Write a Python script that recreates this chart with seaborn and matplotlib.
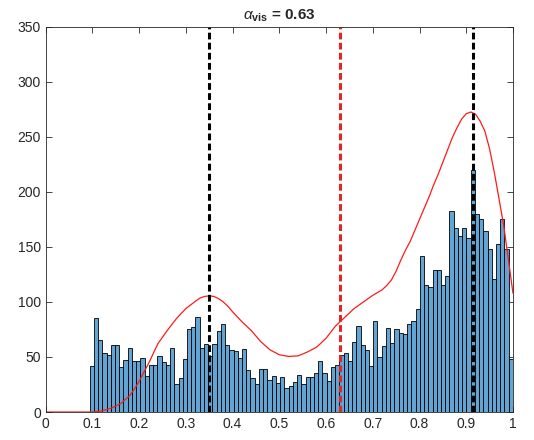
import numpy as np
import pandas as pd
import matplotlib
matplotlib.use("Agg")
import matplotlib.pyplot as plt
import seaborn as sns

# histogram counts, 100 bins from 0.094 to 1.0
bin_lo = 0.094
bin_hi = 1.0
counts = [42, 85, 65, 54, 52, 61, 61, 41, 47, 58,
          46, 46, 49, 33, 43, 43, 51, 45, 43, 58,
          25, 31, 48, 75, 77, 86, 58, 62, 51, 62,
          74, 80, 61, 56, 55, 49, 57, 38, 31, 25,
          39, 39, 29, 33, 26, 32, 22, 24, 27, 34,
          25, 32, 32, 35, 46, 35, 28, 41, 43, 52,
          54, 46, 64, 78, 61, 56, 42, 83, 50, 60,
          76, 63, 75, 72, 71, 80, 83, 94, 142, 115,
          114, 129, 129, 115, 124, 183, 167, 160, 167, 158,
          220, 180, 175, 164, 148, 121, 153, 175, 148, 48]

# red density curve
curve_x = [0.00, 0.05, 0.10, 0.12, 0.14, 0.16, 0.18, 0.19, 0.20, 0.21,
           0.22, 0.23, 0.24, 0.26, 0.28, 0.30, 0.32, 0.33, 0.34, 0.35,
           0.36, 0.37, 0.38, 0.39, 0.40, 0.42, 0.44, 0.46, 0.48, 0.50,
           0.52, 0.54, 0.56, 0.58, 0.60, 0.62, 0.64, 0.66, 0.68, 0.70,
           0.72, 0.73, 0.74, 0.75, 0.76, 0.77, 0.78, 0.79, 0.80, 0.81,
           0.82, 0.83, 0.84, 0.85, 0.86, 0.87, 0.88, 0.89, 0.90, 0.91,
           0.92, 0.93, 0.94, 0.95, 0.96, 0.97, 0.98, 0.99, 1.00]
curve_y = [0, 0, 0, 1, 3.5, 7.5, 15, 21, 28, 36,
           44, 53, 62, 74, 85, 94, 100.5, 103.5, 105, 105.5,
           105, 103, 100, 96, 91, 82, 74, 64, 56.5, 52,
           50.5, 51, 54.5, 59, 67, 78, 86, 94, 100, 106,
           111, 115, 120, 128, 138, 147, 155, 165, 175, 185,
           195, 206, 216, 227, 238, 249, 258, 266, 271, 272.5,
           270.5, 264, 255, 239, 218, 194, 170, 139, 108]

means = [0.35, 0.915]
alpha_vis = 0.63

edges = np.linspace(bin_lo, bin_hi, len(counts) + 1)
hist_df = pd.DataFrame({"x": (edges[:-1] + edges[1:]) / 2, "n": counts})

sns.set_style("ticks")
plt.rcParams['font.family'] = ['Liberation Sans', 'DejaVu Sans']
plt.rcParams['mathtext.fontset'] = 'custom'
plt.rcParams['mathtext.rm'] = 'Liberation Sans'
plt.rcParams['mathtext.it'] = 'Liberation Sans:italic'
plt.rcParams['mathtext.bf'] = 'Liberation Sans:bold'

fig = plt.figure(figsize=(5.34, 4.4), dpi=100)
ax = fig.add_axes([0.0856, 0.0636, 0.875, 0.8757])

sns.histplot(data=hist_df, x="x", weights="n", bins=list(edges), ax=ax,
             color="#62A5D4", alpha=1, edgecolor="black", linewidth=0.6)
sns.lineplot(x=curve_x, y=curve_y, ax=ax, color="#FF1A1A", linewidth=0.9)

for m in means:
    ax.axvline(m, color="black", linewidth=2.2, dashes=(2.2, 1.1))
ax.axvline(alpha_vis, color="#E02626", linewidth=2.2, dashes=(2.2, 1.1))

ax.set_xlim(0, 1)
ax.set_ylim(0, 350)
ax.set_xticks(np.arange(0, 1.01, 0.1))
ax.set_xticklabels(["0", "0.1", "0.2", "0.3", "0.4", "0.5", "0.6", "0.7", "0.8", "0.9", "1"])
ax.set_yticks(np.arange(0, 351, 50))
ax.set_xlabel("")
ax.set_ylabel("")
ax.tick_params(direction="in", top=True, right=True, length=4, width=0.6,
               labelsize=10, colors="#262626")
for s in ax.spines.values():
    s.set_visible(True)
    s.set_color("#262626")
    s.set_linewidth(0.6)
ax.set_title(r"$\alpha_{\mathbf{vis}}$ = 0.63", fontsize=11, fontweight="bold", pad=5)

fig.savefig("out.png", dpi=100)
